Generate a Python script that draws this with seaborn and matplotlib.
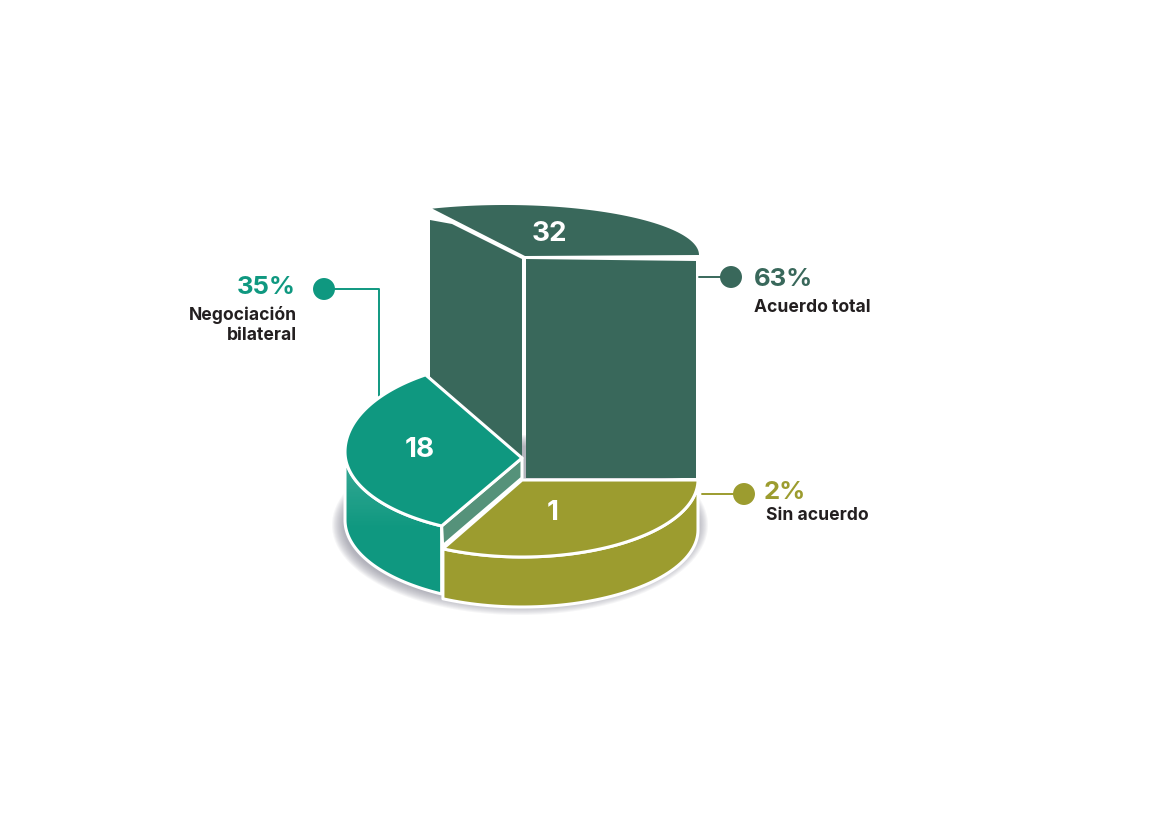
import numpy as np
import seaborn as sns
import matplotlib.pyplot as plt
from matplotlib.patches import Polygon

# Chart values
categories = ["Acuerdo total", "Negociación\nbilateral", "Sin acuerdo"]
counts = [32, 18, 1]
percents = [63, 35, 2]

# Colours
DARK = "#39685b"
TEAL = "#0f9880"
OLIVE = "#9c9c2f"
INNER = "#55927a"
INK = "#231f20"

# Scene, in figure pixels. The slices are illustrative, not proportional.
CX = 522
RX = 177
OLIVE_Y, OLIVE_RY, OLIVE_H = 480, 77, 50
TEAL_Y, TEAL_RY_UP, TEAL_RY_DOWN, TEAL_H = 452, 92, 83, 68
TEAL_APEX = 458
DARK_FLOOR, DARK_H = 478, 220
LID_CX, LID_RX, LID_RY, LID_Y = 505, 194, 50, 255

sns.set_theme(style="white")
plt.rcParams["font.family"] = ["Inter", "DejaVu Sans"]

fig = plt.figure(figsize=(11.5, 8.13), dpi=100)
ax = fig.add_axes([0, 0, 1, 1])


def arc(cx, cy, rx, ry, start, end, n=60):
    t = np.radians(np.linspace(start, end, n))
    return np.column_stack([cx + rx * np.cos(t), cy - ry * np.sin(t)])


def shape(points, color, lw=2.2, edge="white", z=3):
    patch = Polygon(points, closed=True, facecolor=color, edgecolor=edge, linewidth=lw,
                    joinstyle="round", zorder=z)
    ax.add_patch(patch)
    return patch


# Soft shadow under the base
for k in range(12):
    shadow = arc(CX - 2, 525, RX + 11 - k, 90 - k, 0, 360, 120)
    ax.add_patch(Polygon(shadow, closed=True, facecolor="#8d8d9c", edgecolor="none", alpha=0.08, zorder=1))

# Teal slice, side
side_top = arc(CX, TEAL_Y, RX, TEAL_RY_DOWN, 180, 243)
side = shape(np.vstack([side_top, (side_top + [0, TEAL_H])[::-1]]), TEAL, z=2)
gradient = np.zeros((60, 2, 4))
gradient[..., :3] = (1, 1, 1)
gradient[..., 3] = np.linspace(0.18, 0, 60)[:, None]
img = ax.imshow(gradient, extent=(340, 445, 530, 455), aspect="auto", zorder=2.1)
img.set_clip_path(side)

# Olive slice, side
olive_top = arc(CX, OLIVE_Y, RX - 1, OLIVE_RY, 0, -116.7)
shape(np.vstack([olive_top, (olive_top + [0, OLIVE_H])[::-1]]), OLIVE, z=2.5)

# Dark slice: front face, left face and lid
front_l, front_r = CX + 4, CX + RX - 3
top_y = DARK_FLOOR - DARK_H
shape([(front_l, DARK_FLOOR), (front_r, DARK_FLOOR), (front_r, top_y + 3), (front_l, top_y + 1)], DARK, lw=0)
left_x = CX - 92
shape([(CX, TEAL_APEX), (left_x, TEAL_APEX - 81), (left_x, top_y - 38), (left_x + 22, top_y - 34),
       (CX, top_y + 1)], DARK, lw=0)
lid = arc(LID_CX, LID_Y, LID_RX, LID_RY, 112, 0)
shape(np.vstack([lid, [(CX + 3, LID_Y + 1)]]), DARK, lw=0)

# Teal slice, top and inner cut
inner_low = arc(CX, TEAL_Y, RX, TEAL_RY_DOWN, 243, 243, 1)[0]
shape([(CX, TEAL_APEX), (CX, DARK_FLOOR), (inner_low[0] + 1, inner_low[1] + 20), inner_low], INNER, z=4)
teal_top = np.vstack([arc(CX, TEAL_Y, RX, TEAL_RY_UP, 123, 180),
                      arc(CX, TEAL_Y, RX, TEAL_RY_DOWN, 180, 243),
                      [(CX, TEAL_APEX)]])
shape(teal_top, TEAL, z=5)

# Olive slice, top
shape(np.vstack([[(CX, OLIVE_Y)], olive_top]), OLIVE, z=5)

# Counts on the slices
count_pos = [(549, 234), (420, 450), (553, 513)]
for value, (x, y) in zip(counts, count_pos):
    ax.text(x, y, str(value), color="white", fontsize=20, fontweight="bold", ha="center", va="center", zorder=6)

# Leaders and dots
dots = [(731, 277), (324, 289), (744, 494)]
colors = [DARK, TEAL, OLIVE]
ax.plot([699, 731], [277, 277], color=DARK, lw=1.4, zorder=2)
ax.plot([324, 379, 379], [289, 289, 396], color=TEAL, lw=1.4, zorder=2)
ax.plot([702, 744], [494, 494], color=OLIVE, lw=1.4, zorder=2)
sns.scatterplot(x=[d[0] for d in dots], y=[d[1] for d in dots], hue=categories, palette=colors,
                s=250, linewidth=0, legend=False, ax=ax, zorder=6)

# Callout text
pct_pos = [(754, 279, "left"), (296, 287, "right"), (764, 492, "left")]
label_pos = [(754, 307, "left"), (297, 325, "right"), (766, 515, "left")]
for pct, name, color, (px, py, pha), (lx, ly, lha) in zip(percents, categories, colors, pct_pos, label_pos):
    ax.text(px, py, f"{pct}%", color=color, fontsize=18.5, fontweight="bold", ha=pha, va="center")
    ax.text(lx, ly, name, color=INK, fontsize=12.6, fontweight="bold", ha=lha, va="center",
            multialignment=lha, linespacing=1.3)

ax.set_xlim(0, 1150)
ax.set_ylim(813, 0)
ax.axis("off")
fig.savefig("out.png", dpi=100, facecolor="white")
